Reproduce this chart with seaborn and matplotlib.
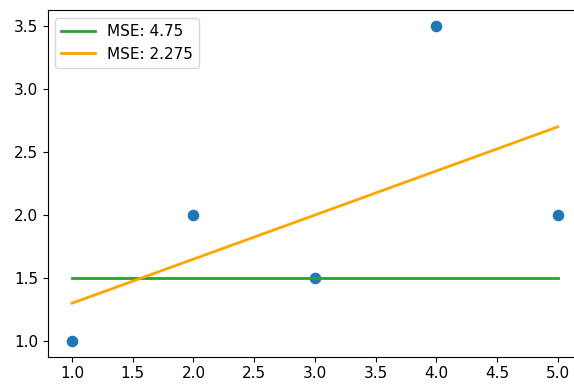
import matplotlib
matplotlib.use("Agg")
import matplotlib.pyplot as plt
import seaborn as sns
import pandas as pd

x = [1, 2, 3, 4, 5]
y = [1.0, 2.0, 1.5, 3.5, 2.0]
pred_const = [1.5, 1.5, 1.5, 1.5, 1.5]
pred_lin = [1.3, 1.65, 2.0, 2.35, 2.7]
labels = ["MSE: 4.75", "MSE: 2.275"]

plt.rcParams['font.family'] = ['DejaVu Sans']
plt.rcParams['font.size'] = 11

fig = plt.figure(figsize=(5.74, 3.88), dpi=100)
ax = fig.add_axes([0.0831, 0.0805, 0.931, 0.893])

df = pd.DataFrame({"x": x, "y": y, "c": pred_const, "l": pred_lin})
sns.scatterplot(data=df, x="x", y="y", ax=ax, s=70, linewidth=0, color="#1f77b4")
sns.lineplot(data=df, x="x", y="c", ax=ax, color="#2ca02c", label=labels[0], linewidth=2)
sns.lineplot(data=df, x="x", y="l", ax=ax, color="orange", label=labels[1], linewidth=2)

ax.set_xlabel("")
ax.set_ylabel("")
ax.set_xlim(0.8, 5.2)
ax.set_ylim(0.875, 3.625)
ax.set_xticks([1.0, 1.5, 2.0, 2.5, 3.0, 3.5, 4.0, 4.5, 5.0])
ax.set_yticks([1.0, 1.5, 2.0, 2.5, 3.0, 3.5])
ax.tick_params(labelsize=11)
ax.spines['right'].set_visible(False)
ax.legend(loc="upper left", fontsize=11, handlelength=2.2)

fig.savefig("out.png", dpi=100)
